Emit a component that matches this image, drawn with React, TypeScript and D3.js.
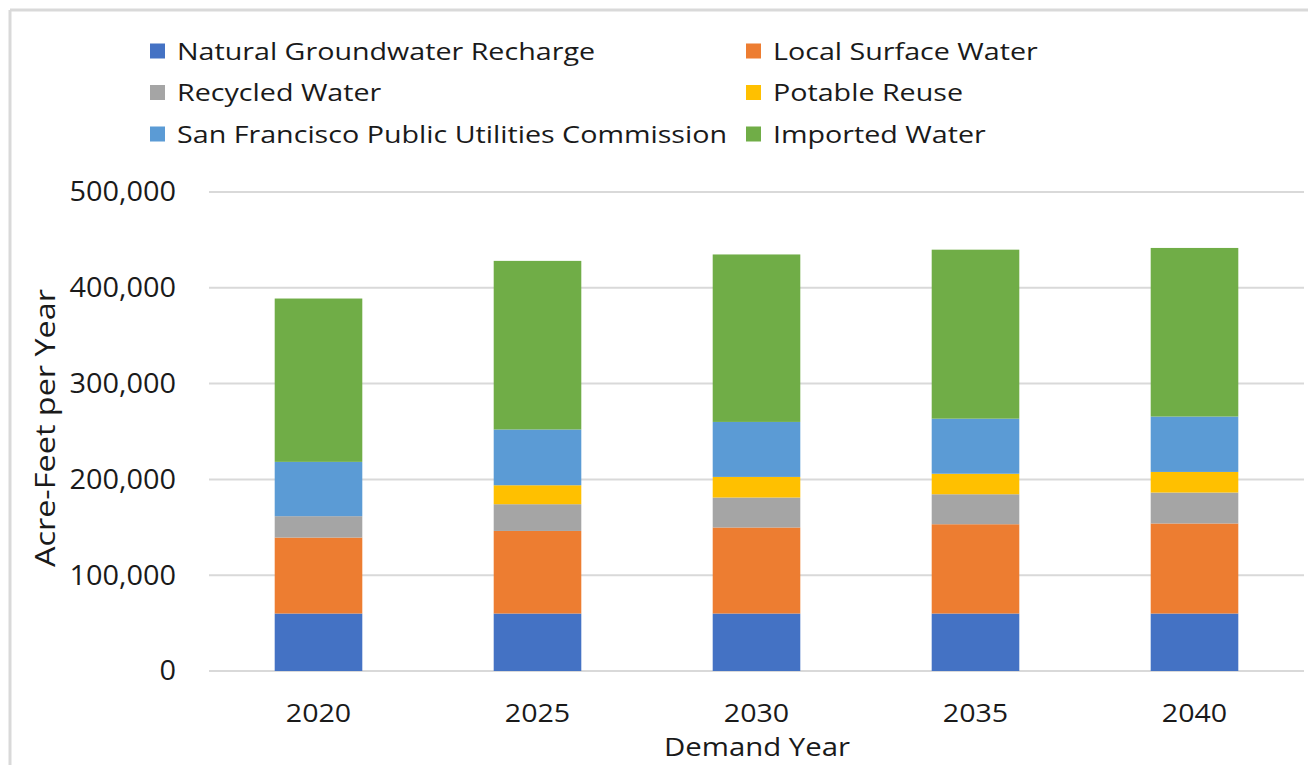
import { useRef, useEffect } from "react";
import * as d3 from "d3";

const years = ["2020", "2025", "2030", "2035", "2040"];
const naturalGroundwater = [60000, 60000, 60000, 60000, 60000];
const localSurface = [79300, 86200, 89800, 93200, 94000];
const recycled = [22300, 27900, 31300, 31300, 32300];
const potableReuse = [0, 19800, 21500, 21400, 21500];
const sfpuc = [56700, 58200, 57400, 57500, 57800];
const imported = [170500, 176000, 174800, 176400, 176000];

const seriesNames = [
  "Natural Groundwater Recharge",
  "Local Surface Water",
  "Recycled Water",
  "Potable Reuse",
  "San Francisco Public Utilities Commission",
  "Imported Water",
];
const seriesColors = ["#4472C4", "#ED7D31", "#A5A5A5", "#FFC000", "#5B9BD5", "#70AD47"];
const yTicks = [0, 100000, 200000, 300000, 400000, 500000];

const W = 1308;
const H = 765;
const FONT = "'Open Sans', 'Noto Sans', sans-serif";

function App() {
  const svgRef = useRef<SVGSVGElement>(null);

  useEffect(() => {
    const svg = d3.select(svgRef.current);
    svg.selectAll("*").remove();

    const keys = seriesNames;
    const values = [naturalGroundwater, localSurface, recycled, potableReuse, sfpuc, imported];
    const rows = years.map((y, i) => {
      const r: any = { year: y };
      keys.forEach((k, j) => (r[k] = values[j][i]));
      return r;
    });
    const stacked = d3.stack().keys(keys)(rows);

    const x = d3.scaleBand().domain(years).range([209, 1304]).paddingInner(0.6).paddingOuter(0.3);
    const y = d3.scaleLinear().domain([0, 500000]).range([671, 192]);
    const color = d3.scaleOrdinal<string, string>().domain(keys).range(seriesColors);

    // outer frame (only top/left visible)
    svg.append("line").attr("x1", 10).attr("x2", W).attr("y1", 10).attr("y2", 10)
      .attr("stroke", "#D9D9D9").attr("stroke-width", 3);
    svg.append("line").attr("x1", 10).attr("x2", 10).attr("y1", 10).attr("y2", H)
      .attr("stroke", "#D9D9D9").attr("stroke-width", 3);

    // gridlines
    svg.append("g").selectAll("line").data(yTicks).join("line")
      .attr("x1", 209).attr("x2", 1304)
      .attr("y1", d => y(d)).attr("y2", d => y(d))
      .attr("stroke", "#D9D9D9").attr("stroke-width", 2);

    // y tick labels (text is a bit wider in the original, hence the x-scale)
    svg.append("g").selectAll("text").data(yTicks).join("text")
      .attr("transform", d => `translate(176,${y(d)}) scale(1.07,1)`)
      .attr("dy", "0.35em")
      .attr("text-anchor", "end")
      .attr("font-family", FONT).attr("font-size", 27).attr("fill", "#1a1a1a")
      .text(d => d3.format(",")(d));

    // bars
    svg.append("g").selectAll("g").data(stacked).join("g")
      .attr("fill", d => color(d.key))
      .selectAll("rect").data(d => d).join("rect")
      .attr("x", d => x(d.data.year as string)!)
      .attr("width", x.bandwidth())
      .attr("y", d => y(d[1]))
      .attr("height", d => y(d[0]) - y(d[1]));

    // x tick labels
    svg.append("g").selectAll("text").data(years).join("text")
      .attr("transform", d => `translate(${x(d)! + x.bandwidth() / 2},722) scale(1.1,1)`)
      .attr("text-anchor", "middle")
      .attr("font-family", FONT).attr("font-size", 26).attr("fill", "#1a1a1a")
      .text(d => d);

    // axis titles
    svg.append("text")
      .attr("transform", "translate(757,756) scale(1.13,1)")
      .attr("text-anchor", "middle")
      .attr("font-family", FONT).attr("font-size", 26).attr("fill", "#1a1a1a")
      .text("Demand Year");

    svg.append("text")
      .attr("transform", "translate(55,428) rotate(-90) scale(1.2,1)")
      .attr("text-anchor", "middle")
      .attr("font-family", FONT).attr("font-size", 27).attr("fill", "#1a1a1a")
      .text("Acre-Feet per Year");

    // legend: 2 columns x 3 rows
    const legend = svg.append("g");
    keys.forEach((k, i) => {
      const col = i % 2;
      const row = Math.floor(i / 2);
      const lx = col === 0 ? 150 : 746;
      const ly = 51 + row * 41.5;
      legend.append("rect")
        .attr("x", lx).attr("y", ly - 7.5).attr("width", 15).attr("height", 15)
        .attr("fill", color(k));
      legend.append("text")
        .attr("transform", `translate(${lx + 27},${ly}) scale(1.17,1)`)
        .attr("dy", "0.35em")
        .attr("font-family", FONT).attr("font-size", 24.5).attr("fill", "#1a1a1a")
        .text(k);
    });
  }, []);

  return (
    <svg
      ref={svgRef}
      width={W}
      height={H}
      style={{ position: "absolute", left: 0, top: 0, display: "block", background: "#fff" }}
    />
  );
}

export default App;
